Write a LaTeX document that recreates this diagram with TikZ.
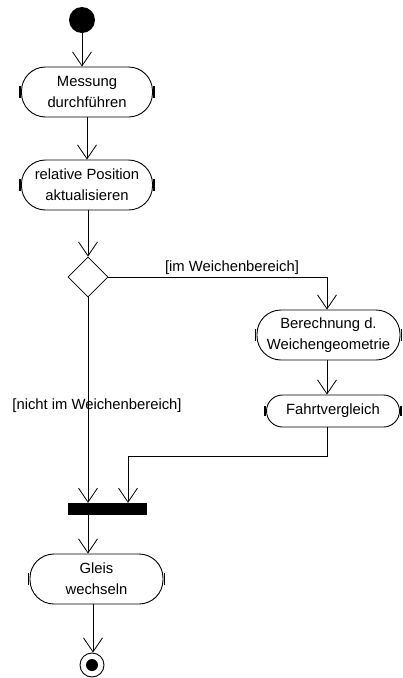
\documentclass[tikz,border=0pt]{standalone}
\usepackage{fontspec}
\setmainfont{Liberation Sans}
\usetikzlibrary{arrows.meta,shapes.geometric}
\begin{document}
\begin{tikzpicture}[x=1pt,y=-1pt,
  every node/.style={font=\fontsize{14.8}{21}\selectfont},
  act/.style={draw, line width=0.9pt, rounded corners=24pt, align=center, inner sep=0pt},
  flow/.style={line width=0.8pt, -{Straight Barb[length=14pt,width=19pt,line width=0.8pt]}},
  seg/.style={line width=0.8pt},
  tick/.style={line width=1.6pt},
  guard/.style={inner sep=0pt}]
\useasboundingbox (0,0) rectangle (403,678);
\node[circle, fill=black, minimum size=26pt, inner sep=0pt] (start) at (82,20) {};
\node[act, minimum width=131pt, minimum height=50pt] (a1) at (87,92) {Messung\\durchführen};
\node[act, minimum width=131pt, minimum height=50pt] (a2) at (87,185) {relative Position\\aktualisieren};
\node[diamond, draw, line width=0.8pt, minimum width=40pt, minimum height=40pt, inner sep=0pt] (d) at (88,277) {};
\node[act, minimum width=143pt, minimum height=50pt] (a3) at (328.5,335) {Berechnung d.\\Weichengeometrie};
\node[act, rounded corners=16pt, minimum width=133pt, minimum height=32pt] (a4) at (333,411) {Fahrtvergleich};
\node[fill=black, minimum width=79pt, minimum height=12pt, inner sep=0pt] (bar) at (107.5,509) {};
\node[act, minimum width=133pt, minimum height=50pt] (a5) at (96.5,579) {Gleis\\wechseln};
\node[circle, draw, line width=0.9pt, minimum size=24pt, inner sep=0pt] (end) at (92,665) {};
\node[circle, fill=black, minimum size=12pt, inner sep=0pt] (endin) at (end) {};
% end ticks
\foreach \n in {a1,a2,a3,a5}{
  \draw[tick] ([xshift=-1pt,yshift=-6pt]\n.west) -- ([xshift=-1pt,yshift=6pt]\n.west);
  \draw[tick] ([xshift=1pt,yshift=-6pt]\n.east) -- ([xshift=1pt,yshift=6pt]\n.east);
}
\draw[tick] ([xshift=-1pt,yshift=-5pt]a4.west) -- ([xshift=-1pt,yshift=5pt]a4.west);
\draw[tick] ([xshift=1pt,yshift=-5pt]a4.east) -- ([xshift=1pt,yshift=5pt]a4.east);
% connectors
\coordinate (c1) at (327,456);
\coordinate (c2) at (128,456);
\coordinate (c3) at (93,0);
\draw[flow] (start) -- (start |- a1.north);
\draw[flow] (a1.south) -- (a2.north);
\draw[flow] (d.north |- a2.south) -- (d.north);
\draw[flow] (d.east) -- (c1 |- d.east) -- (c1 |- a3.north);
\draw[flow] (c1 |- a3.south) -- (c1 |- a4.north);
\draw[seg] (c1 |- a4.south) -- (c1) -- (c2);
\draw[flow] (c2) -- (c2 |- bar.north);
\draw[flow] (d.south) -- (d.south |- bar.north);
\draw[flow] (d.south |- bar.south) -- (d.south |- a5.north);
\draw[flow] (c3 |- a5.south) -- (c3 |- end.north);
% guards
\node[guard] (g1) at (232,268) {[im Weichenbereich]};
\node[guard] (g2) at (97,406) {[nicht im Weichenbereich]};
\end{tikzpicture}
\end{document}
